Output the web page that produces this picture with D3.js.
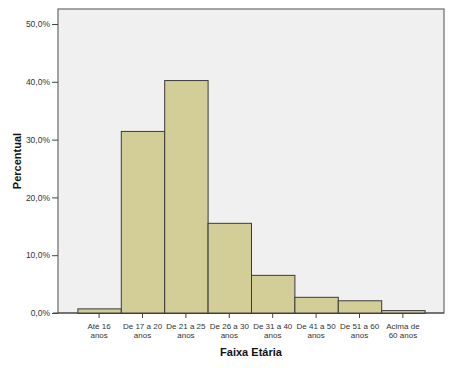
<!DOCTYPE html>
<html><head><meta charset="utf-8">
<script src="https://cdn.jsdelivr.net/npm/d3@7/dist/d3.min.js"></script>
<style>body{margin:0;background:#fff}svg{display:block}text{font-family:"Liberation Sans",Arial,sans-serif}</style>
</head><body><svg id="c" width="454" height="368"></svg>
<script>
const categories = [["Até 16","anos"],["De 17 a 20","anos"],["De 21 a 25","anos"],["De 26 a 30","anos"],["De 31 a 40","anos"],["De 41 a 50","anos"],["De 51 a 60","anos"],["Acima de","60 anos"]];
const values = [0.8, 31.5, 40.3, 15.6, 6.6, 2.8, 2.2, 0.5];
const yTicks = [0, 10, 20, 30, 40, 50];
const xTitle = "Faixa Etária";
const yTitle = "Percentual";

const svg = d3.select("#c");
const L = 58, T = 9, R = 444, B = 313;
const x = d3.scaleBand().domain(d3.range(categories.length)).range([L, R]).paddingInner(0).paddingOuter(0.447);
const y = d3.scaleLinear().domain([0, 50]).range([B, 24]);

svg.append("rect").attr("x", L).attr("y", T).attr("width", R - L).attr("height", B - T)
  .attr("fill", "#f0f0f0").attr("stroke", "#6a6a6a").attr("stroke-width", 1.2);

svg.append("g").selectAll("rect").data(values).join("rect")
  .attr("x", (d, i) => x(i) + 0.5).attr("width", x.bandwidth())
  .attr("y", d => y(d) + 0.5).attr("height", d => B - y(d))
  .attr("fill", "#d3ce97").attr("stroke", "#3a3a3a").attr("stroke-width", 1);

const ya = svg.append("g").attr("transform", `translate(${L},0)`)
  .call(d3.axisLeft(y).tickValues(yTicks).tickSize(6).tickPadding(2)
    .tickFormat(d => d.toFixed(1).replace(".", ",") + "%"));
ya.select(".domain").remove();
ya.selectAll("line").attr("stroke", "#444");
ya.selectAll("text").attr("font-size", 8.5).attr("fill", "#333")
  .attr("font-family", '"Liberation Sans",Arial,sans-serif');

const xa = svg.append("g").attr("transform", `translate(0,${B})`)
  .call(d3.axisBottom(x).tickSize(5).tickFormat(""));
xa.select(".domain").remove();
xa.selectAll("line").attr("stroke", "#444");
xa.selectAll(".tick").each(function(d) {
  const t = d3.select(this).append("text").attr("fill", "#333").attr("font-size", 8)
    .attr("text-anchor", "middle").attr("font-family", '"Liberation Sans",Arial,sans-serif');
  t.append("tspan").attr("x", 0).attr("y", 15.5).text(categories[d][0]);
  t.append("tspan").attr("x", 0).attr("y", 24.5).text(categories[d][1]);
});

svg.append("line").attr("x1", L - 5).attr("x2", R).attr("y1", B).attr("y2", B).attr("stroke", "#444");

svg.append("text").attr("x", (L + R) / 2).attr("y", 356).attr("text-anchor", "middle")
  .attr("font-size", 11).attr("font-weight", "bold").attr("fill", "#111").text(xTitle);
svg.append("text").attr("transform", `translate(21,${(T + B) / 2}) rotate(-90)`).attr("text-anchor", "middle")
  .attr("font-size", 11).attr("font-weight", "bold").attr("fill", "#111").text(yTitle);
</script></body></html>
